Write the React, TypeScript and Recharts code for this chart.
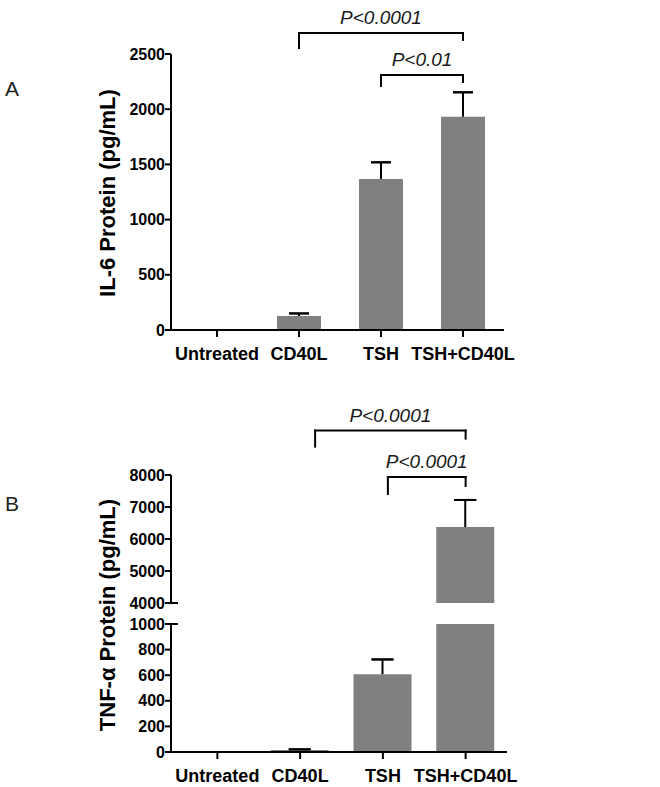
import { Bar, BarChart, ErrorBar, ReferenceLine, XAxis, YAxis } from 'recharts';

const treatments = ['Untreated', 'CD40L', 'TSH', 'TSH+CD40L'];

// IL-6 secretion (pg/mL): mean and upper SEM
const il6Mean = [0, 127, 1368, 1932];
const il6Err: (number | null)[] = [null, 23, 151, 221];
const il6Ticks = [0, 500, 1000, 1500, 2000, 2500];

// TNF-alpha secretion (pg/mL), plotted on a broken axis
const tnfMean = [0, 15, 608, 6373];
const tnfErr: (number | null)[] = [null, 6, 115, 847];
const tnfLowTicks = [0, 200, 400, 600, 800, 1000];
const tnfHighTicks = [4000, 5000, 6000, 7000, 8000];

// significance brackets, in data units of the panel's y axis
const il6Brackets = [
  { from: 'CD40L', to: 'TSH+CD40L', y: 2690, leftEnd: 2554, rightEnd: 2627, label: 'P<0.0001' },
  { from: 'TSH', to: 'TSH+CD40L', y: 2310, leftEnd: 2210, rightEnd: 2246, label: 'P<0.01' },
];
const tnfBrackets = [
  { from: 'CD40L', to: 'TSH+CD40L', y: 9387, leftEnd: 8886, rightEnd: 9136, label: 'P<0.0001' },
  { from: 'TSH', to: 'TSH+CD40L', y: 7937, leftEnd: 7405, rightEnd: 7656, label: 'P<0.0001' },
];

const FONT = '"Liberation Sans", Arial, sans-serif';
const BAR_FILL = '#808080';
const INK = '#000';

// left leg of each bracket is hand-placed a little right of the bar centre in panel B
const il6Nudge = [0, 0];
const tnfNudge = [15, 5];

const errorKeys = (e: number | null) => (e == null ? {} : { stem: [0, e], cap: [-e, e] });

const il6Rows = treatments.map((name, i) => ({ name, value: il6Mean[i], ...errorKeys(il6Err[i]) }));

const tnfHighRows = treatments.map((name, i) => ({
  name,
  value: tnfMean[i] >= 4000 ? tnfMean[i] : null,
  ...(tnfMean[i] >= 4000 ? errorKeys(tnfErr[i]) : {}),
}));

const tnfLowRows = treatments.map((name, i) => ({
  name,
  value: tnfMean[i],
  ...(tnfMean[i] + (tnfErr[i] ?? 0) <= 1000 ? errorKeys(tnfErr[i]) : {}),
}));

const axisStroke = { stroke: INK, strokeWidth: 2 };
const yTick = { fontSize: 16, fontWeight: 'bold', fill: INK, fontFamily: FONT };
const xTick = { fontSize: 18, fontWeight: 'bold', fill: INK, fontFamily: FONT };
const pStyle = { fontSize: 19, fontStyle: 'italic', fill: '#1a1a1a', fontFamily: FONT };

type Bracket = (typeof il6Brackets)[number];

function bracketLines(list: Bracket[], nudges: number[]) {
  return list.flatMap((b, i) => {
    const dx = nudges[i];
    return [
      <ReferenceLine
        key={`h${i}`}
        ifOverflow="visible"
        segment={[{ x: b.from, y: b.y }, { x: b.to, y: b.y }]}
        shape={(p: any) => (
          <g>
            <line x1={p.x1 + dx} y1={p.y1} x2={p.x2} y2={p.y2} stroke={INK} strokeWidth={2} strokeLinecap="square" />
            <text x={(p.x1 + dx + p.x2) / 2} y={p.y1 - 9} textAnchor="middle" style={pStyle}>
              {b.label}
            </text>
          </g>
        )}
      />,
      <ReferenceLine
        key={`l${i}`}
        ifOverflow="visible"
        segment={[{ x: b.from, y: b.y }, { x: b.from, y: b.leftEnd }]}
        shape={(p: any) => (
          <line x1={p.x1 + dx} y1={p.y1} x2={p.x2 + dx} y2={p.y2} stroke={INK} strokeWidth={2} strokeLinecap="square" />
        )}
      />,
      <ReferenceLine
        key={`r${i}`}
        ifOverflow="visible"
        segment={[{ x: b.to, y: b.y }, { x: b.to, y: b.rightEnd }]}
        shape={(p: any) => (
          <line x1={p.x1} y1={p.y1} x2={p.x2} y2={p.y2} stroke={INK} strokeWidth={2} strokeLinecap="square" />
        )}
      />,
    ];
  });
}

function errorBars(halfCap: number) {
  return [
    <ErrorBar key="stem" dataKey="stem" direction="y" width={0} stroke={INK} strokeWidth={2} isAnimationActive={false} />,
    <ErrorBar key="cap" dataKey="cap" direction="y" width={halfCap} stroke={INK} strokeWidth={2} isAnimationActive={false} />,
  ];
}

// small tick crossing the axis where it is broken
const breakMark = (p: any) => {
  const left = Math.min(p.x1, p.x2);
  return <line x1={left - 6} y1={p.y1} x2={left + 7} y2={p.y1} stroke={INK} strokeWidth={2} />;
};

export default function App() {
  return (
    <div style={{ position: 'absolute', left: 0, top: 0, width: 660, height: 787, background: '#fff', fontFamily: FONT }}>
      {/* Panel A: IL-6 */}
      <div style={{ position: 'absolute', left: 0, top: 0 }}>
        <BarChart width={660} height={365} data={il6Rows} margin={{ top: 54, right: 156, bottom: 0, left: 115 }}>
          <XAxis
            dataKey="name"
            height={35}
            interval={0}
            padding={{ left: 5, right: 0 }}
            axisLine={axisStroke}
            tickLine={axisStroke}
            tickSize={7}
            tickMargin={10}
            tick={xTick}
          />
          <YAxis
            width={56}
            domain={[0, 2500]}
            ticks={il6Ticks}
            interval={0}
            axisLine={axisStroke}
            tickLine={axisStroke}
            tickSize={6}
            tickMargin={0}
            tick={yTick}
          />
          <Bar dataKey="value" fill={BAR_FILL} barSize={44} isAnimationActive={false}>
            {errorBars(10)}
          </Bar>
          {bracketLines(il6Brackets, il6Nudge)}
        </BarChart>
      </div>

      {/* Panel B, lower segment 0-1000 */}
      <div style={{ position: 'absolute', left: 0, top: 603 }}>
        <BarChart width={660} height={184} data={tnfLowRows} margin={{ top: 21, right: 153, bottom: 0, left: 115 }}>
          <XAxis
            dataKey="name"
            height={35}
            interval={0}
            padding={{ left: 5, right: 0 }}
            axisLine={axisStroke}
            tickLine={axisStroke}
            tickSize={7}
            tickMargin={10}
            tick={xTick}
          />
          <YAxis
            width={56}
            domain={[0, 1000]}
            allowDataOverflow
            ticks={tnfLowTicks}
            interval={0}
            axisLine={axisStroke}
            tickLine={axisStroke}
            tickSize={6}
            tickMargin={0}
            tick={yTick}
          />
          <Bar dataKey="value" fill={BAR_FILL} barSize={58} isAnimationActive={false}>
            {errorBars(11)}
          </Bar>
          <ReferenceLine y={1000} ifOverflow="visible" shape={breakMark} />
        </BarChart>
      </div>

      {/* Panel B, upper segment 4000-8000 */}
      <div style={{ position: 'absolute', left: 0, top: 390 }}>
        <BarChart width={660} height={225} data={tnfHighRows} margin={{ top: 85, right: 153, bottom: 12, left: 115 }}>
          <XAxis dataKey="name" hide padding={{ left: 5, right: 0 }} />
          <YAxis
            width={56}
            domain={[4000, 8000]}
            allowDataOverflow
            ticks={tnfHighTicks}
            interval={0}
            axisLine={axisStroke}
            tickLine={axisStroke}
            tickSize={6}
            tickMargin={0}
            tick={yTick}
          />
          <Bar dataKey="value" fill={BAR_FILL} barSize={58} isAnimationActive={false}>
            {errorBars(11)}
          </Bar>
          <ReferenceLine y={4000} ifOverflow="visible" shape={breakMark} />
          {bracketLines(tnfBrackets, tnfNudge)}
        </BarChart>
      </div>

      {/* panel letters and y titles */}
      <svg width={660} height={787} style={{ position: 'absolute', left: 0, top: 0, pointerEvents: 'none' }}>
        <text x={12} y={88} textAnchor="middle" dominantBaseline="central" fontSize={21} fill="#222" fontFamily={FONT}>
          A
        </text>
        <text x={12} y={503} textAnchor="middle" dominantBaseline="central" fontSize={21} fill="#222" fontFamily={FONT}>
          B
        </text>
        <text
          x={107}
          y={193}
          transform="rotate(-90 107 193)"
          textAnchor="middle"
          dominantBaseline="central"
          fontSize={22}
          fontWeight="bold"
          fill={INK}
          fontFamily={FONT}
        >
          IL-6 Protein (pg/mL)
        </text>
        <text
          x={107}
          y={615}
          transform="rotate(-90 107 615)"
          textAnchor="middle"
          dominantBaseline="central"
          fontSize={22}
          fontWeight="bold"
          fill={INK}
          fontFamily={FONT}
        >
          TNF-α Protein (pg/mL)
        </text>
      </svg>
    </div>
  );
}
